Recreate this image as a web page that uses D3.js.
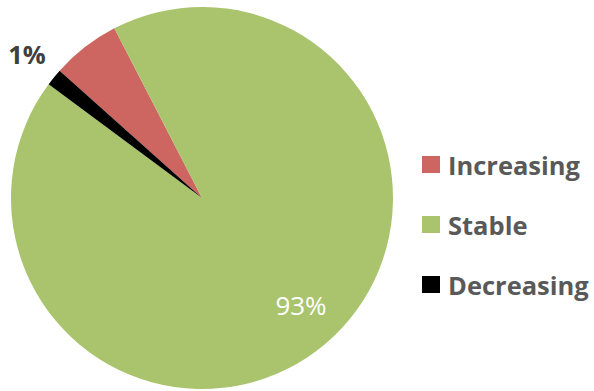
<!DOCTYPE html>
<html>
<head>
<meta charset="utf-8">
<script src="https://cdn.jsdelivr.net/npm/d3@7"></script>
<style>
  html, body { margin: 0; padding: 0; background: #fff; }
  svg { display: block; }
  text { font-family: "Open Sans", Lato, sans-serif; }
</style>
</head>
<body>
<svg id="chart" width="594" height="391"></svg>
<script>
// Survey responses by trend
const categories = ["Increasing", "Stable", "Decreasing"];
const counts = [8, 128, 2];
const colors = ["#CD6661", "#A9C46D", "#000000"];
const showLabel = [false, true, true];

const width = 594, height = 391;
const cx = 202, cy = 198, radius = 191;

const svg = d3.select("#chart");
const total = d3.sum(counts);
const data = categories.map((c, i) => ({ name: c, value: counts[i], color: colors[i], label: showLabel[i] }));

// Slices run clockwise from the first-slice angle
const startAngle = -48.2 * Math.PI / 180;
const pie = d3.pie().sort(null).value(d => d.value)
  .startAngle(startAngle).endAngle(startAngle + 2 * Math.PI);
const arc = d3.arc().innerRadius(0).outerRadius(radius);

const g = svg.append("g").attr("transform", `translate(${cx},${cy})`);
const arcs = pie(data);

g.selectAll("path.slice").data(arcs).enter().append("path")
  .attr("class", "slice")
  .attr("d", arc)
  .attr("fill", d => d.data.color);

const pct = d => Math.round(d.data.value / total * 100) + "%";

// Large slice: label inside; thin slice: label outside the rim
arcs.forEach(a => {
  if (!a.data.label) return;
  const inside = (a.endAngle - a.startAngle) > 0.5;
  const [x, y] = inside ? [99, 117] : [-175, -134];
  const t = g.append("text")
    .attr("x", x).attr("y", y)
    .attr("text-anchor", "middle")
    .attr("fill", inside ? "#ffffff" : "#404040")
    .text(pct(a));
  if (inside) {
    t.attr("font-family", "Lato, sans-serif").attr("font-size", 26).attr("font-weight", 400);
  } else {
    t.attr("font-size", 25.5).attr("font-weight", 700);
  }
});

// Legend
const legend = svg.append("g").attr("transform", "translate(422,156)");
const item = legend.selectAll("g.item").data(data).enter().append("g")
  .attr("class", "item")
  .attr("transform", (d, i) => `translate(0,${i * 60})`);
item.append("rect").attr("width", 18).attr("height", 17).attr("fill", d => d.color);
item.append("text")
  .attr("x", 26).attr("y", 19)
  .attr("font-size", 25.5)
  .attr("font-weight", 700)
  .attr("fill", "#595959")
  .text(d => d.name);
</script>
</body>
</html>
